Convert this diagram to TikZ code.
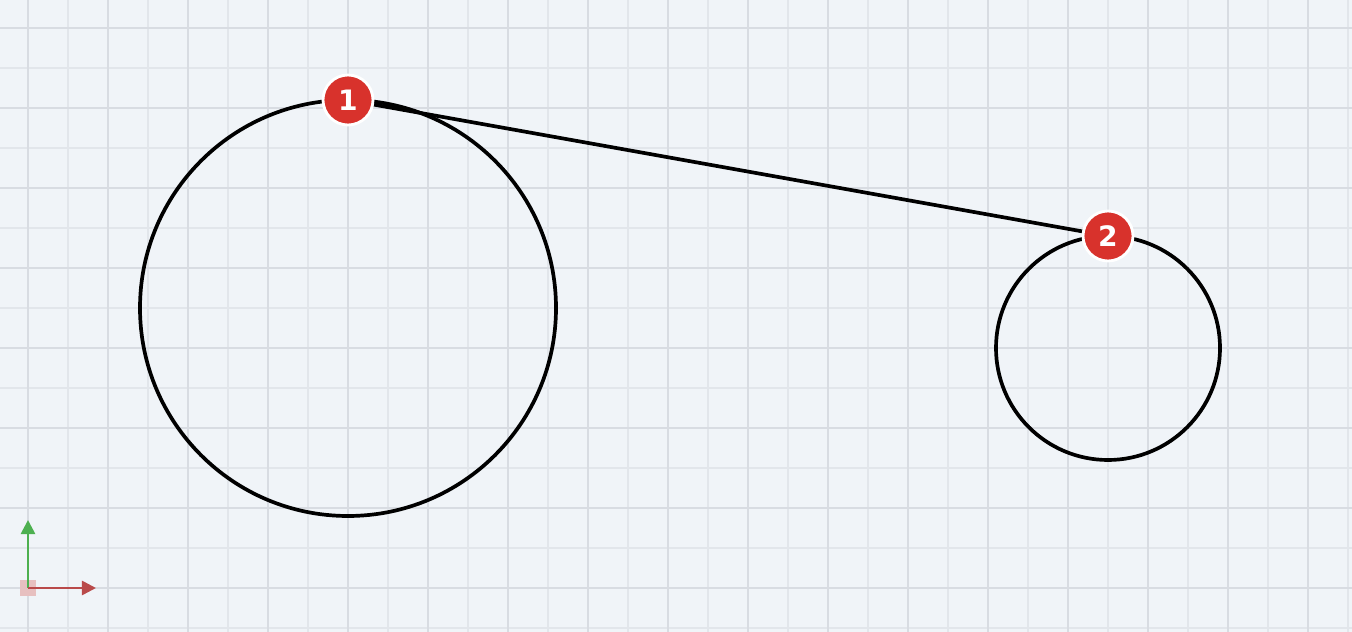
\documentclass[tikz,border=0pt]{standalone}
\usepackage{fontspec}
\setsansfont{DejaVu Sans}
\usetikzlibrary{arrows.meta, positioning}
\definecolor{PaperColor}{HTML}{F0F4F8}
\definecolor{MinorColor}{HTML}{E2E6EB}
\definecolor{MajorColor}{HTML}{D8DCE2}
\definecolor{PinColor}{HTML}{D8322C}
\definecolor{AxisX}{HTML}{B94A4A}
\definecolor{AxisY}{HTML}{4DB050}

\begin{document}
\begin{tikzpicture} [
    x=0.8cm, y=0.8cm,
    wheel/.style = {draw=black, line width=2.1pt},
     belt/.style = {draw=black, line width=2.1pt},
      pin/.style = {circle, fill=PinColor, draw=white, line width=1.6pt,
                    minimum size=1cm, inner sep=0pt, text=white,
                    font=\sffamily\bfseries\fontsize{16}{18}\selectfont},
     axis/.style = {line width=1.5pt, -{Triangle[length=8pt, width=8pt]}}
]
  % Paper and grid
  \fill[PaperColor] (-0.7,-1.1) rectangle (33.1,14.7);
  \useasboundingbox (-0.7,-1.1) rectangle (33.1,14.7);
  \foreach \gx in {1,3,...,33} \draw[MinorColor, line width=1.2pt] (\gx,-1.1) -- (\gx,14.7);
  \foreach \gy in {-1,1,...,13} \draw[MinorColor, line width=1.2pt] (-0.7,\gy) -- (33.1,\gy);
  \foreach \gx in {0,2,...,32} \draw[MajorColor, line width=1.6pt] (\gx,-1.1) -- (\gx,14.7);
  \foreach \gy in {0,2,...,14} \draw[MajorColor, line width=1.6pt] (-0.7,\gy) -- (33.1,\gy);

  % Axes
  \coordinate (origin) at (0,0);
  \coordinate (xend) at (1.7,0);
  \coordinate (yend) at (0,1.7);
  \fill[AxisX!35] ([shift={(-0.2,-0.2)}]origin) rectangle ([shift={(0.2,0.2)}]origin);
  \draw[axis, AxisY] (origin) -- (yend);
  \draw[axis, AxisX] (origin) -- (xend);

  % Wheels
  \coordinate (bigc) at (8,7);
  \coordinate (smallc) at (27,6);
  \draw[wheel] (bigc) circle (5.2);
  \draw[wheel] (smallc) circle (2.8);

  % Belt
  \coordinate (bigtop) at (8,12.2);
  \coordinate (smalltop) at (27,8.8);
  \draw[belt] (bigtop) -- (smalltop);

  % Pins
  \node[pin] (one) at (bigtop) {1};
  \node[pin] (two) at (smalltop) {2};
\end{tikzpicture}
\end{document}
